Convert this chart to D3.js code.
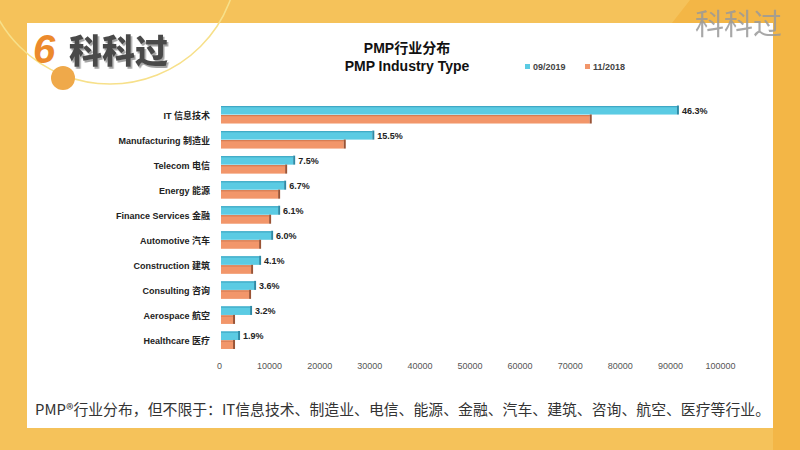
<!DOCTYPE html>
<html><head><meta charset="utf-8">
<script src="https://cdn.jsdelivr.net/npm/d3@7"></script>
<style>html,body{margin:0;padding:0;background:#F5C25A;}svg{display:block}</style>
</head><body>
<script>
const categories = ["IT 信息技术","Manufacturing 制造业","Telecom 电信","Energy 能源","Finance Services 金融","Automotive 汽车","Construction 建筑","Consulting 咨询","Aerospace 航空","Healthcare 医疗"];
const values2019 = [91800,31000,15200,13400,12200,10800,8400,7400,6600,4200];
const values2018 = [74400,25300,13600,12200,10400,8400,6800,6400,3200,3200];
const pctLabels = ["46.3%","15.5%","7.5%","6.7%","6.1%","6.0%","4.1%","3.6%","3.2%","1.9%"];
const seriesNames = ["09/2019","11/2018"];
const tickValues = [0,10000,20000,30000,40000,50000,60000,70000,80000,90000,100000];

(function(){
const W=800,H=450;
const svg=d3.select("body").append("svg").attr("width",W).attr("height",H);
const latin="'Liberation Sans',Arial,'Noto Sans CJK SC',sans-serif";
const cjk="'Noto Sans CJK SC','Noto Sans',sans-serif";

const defs=svg.append("defs");
const f=defs.append("filter").attr("id","sh").attr("x","-10%").attr("y","-10%").attr("width","130%").attr("height","140%");
f.append("feDropShadow").attr("dx",1.5).attr("dy",2).attr("stdDeviation",0.6).attr("flood-color","#999").attr("flood-opacity",0.9);

// background
svg.append("rect").attr("width",W).attr("height",H).attr("fill","#F5C25A");
svg.append("path").attr("d","M672,23 L690,0 L800,0 L800,450 L773,450 L773,23 Z").attr("fill","#F3B646");
svg.append("rect").attr("x",27).attr("y",23).attr("width",746).attr("height",405).attr("fill","#fff");
// decorative arc and dot
svg.append("circle").attr("cx",110).attr("cy",-44).attr("r",128).attr("fill","none").attr("stroke","#F7E08A").attr("stroke-width",1.5);
svg.append("circle").attr("cx",63).attr("cy",78).attr("r",12).attr("fill","#EFA94A");
// logo
svg.append("text").attr("x",33).attr("y",63).attr("font-family",latin).attr("font-weight","bold").attr("font-style","italic")
  .attr("font-size",40).attr("fill","#EC8A2C").text("6");
svg.append("text").attr("x",69).attr("y",63).attr("font-family",cjk).attr("font-weight","900").attr("font-size",33)
  .attr("fill","#4a4a4a").attr("filter","url(#sh)").text("科科过");
// watermark
svg.append("text").attr("x",695).attr("y",35).attr("font-family",cjk).attr("font-size",29).attr("fill","#9a9a9a").attr("opacity",0.85).text("科科过");

// titles
svg.append("text").attr("x",407).attr("y",53).attr("text-anchor","middle").attr("font-family",latin).attr("font-weight","bold").attr("font-size",14).attr("fill","#111").text("PMP行业分布");
svg.append("text").attr("x",407).attr("y",71).attr("text-anchor","middle").attr("font-family",latin).attr("font-weight","bold").attr("font-size",14).attr("fill","#111").text("PMP Industry Type");

const colors=["#5BCBE3","#F2966A"];
const dark=["#2E8AA6","#9A5436"];
const topc=["#3FA8C4","#D57C52"];
// legend
const legX=[525,585];
seriesNames.forEach((s,i)=>{
  svg.append("rect").attr("x",legX[i]).attr("y",64).attr("width",5).attr("height",5).attr("fill",colors[i]);
  svg.append("text").attr("x",legX[i]+8).attr("y",69.5).attr("font-family",latin).attr("font-weight","bold").attr("font-size",9).attr("fill","#444").text(s);
});

const x=d3.scaleLinear().domain([0,100000]).range([219,720]);
const y=d3.scaleBand().domain(categories).range([103,353.5]).padding(0);
const inner=d3.scaleBand().domain(seriesNames).range([-9.5,8]).paddingInner(0.05);

const g=svg.append("g");
const rows=categories.map((c,i)=>({c,i,vals:[values2019[i],values2018[i]]}));
rows.forEach(r=>{
  const cy=y(r.c)+y.bandwidth()/2;
  r.vals.forEach((v,k)=>{
    const y0=cy+inner(seriesNames[k]);
    const h=inner.bandwidth();
    const x0=x(0)+2, x1=x(v);
    g.append("rect").attr("x",x0).attr("y",y0).attr("width",x1-x0-2).attr("height",h).attr("fill",colors[k]);
    g.append("rect").attr("x",x0).attr("y",y0).attr("width",x1-x0-2).attr("height",1.2).attr("fill",topc[k]);
    g.append("rect").attr("x",x1-2).attr("y",y0-0.5).attr("width",2).attr("height",h+0.5).attr("fill",dark[k]);
  });
  g.append("text").attr("x",210).attr("y",cy+3.5).attr("text-anchor","end").attr("font-family",latin).attr("font-weight","bold")
    .attr("font-size",9).attr("fill","#222").text(r.c);
  g.append("text").attr("x",x(r.vals[0])+3).attr("y",cy-1.5).attr("font-family",latin).attr("font-weight","bold")
    .attr("font-size",9).attr("fill","#222").text(pctLabels[r.i]);
});

// x axis
const ax=svg.append("g").attr("transform","translate(0,361)")
  .call(d3.axisBottom(x).tickValues(tickValues).tickFormat(d3.format("d")).tickSize(0).tickPadding(2));
ax.select(".domain").remove();
ax.selectAll("text").attr("font-family",latin).attr("font-size",9).attr("fill","#555");

// caption
svg.append("text").attr("x",35).attr("y",415).attr("font-family",cjk).attr("font-size",15).attr("fill","#333")
  .attr("textLength",735).attr("lengthAdjust","spacingAndGlyphs")
  .text("PMP®行业分布，但不限于：IT信息技术、制造业、电信、能源、金融、汽车、建筑、咨询、航空、医疗等行业。");
})();
</script>
</body></html>
